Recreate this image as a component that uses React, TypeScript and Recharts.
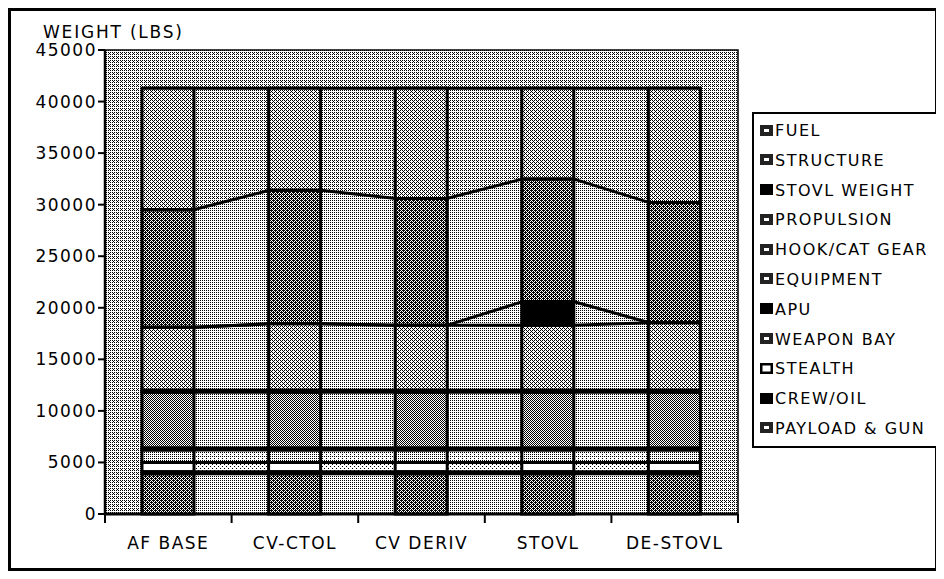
import React from 'react';
import { AreaChart, Area, BarChart, Bar, XAxis, YAxis, CartesianGrid, ReferenceArea } from 'recharts';

// categories and weights (lbs), stacked bottom to top
const categories = ['AF BASE', 'CV-CTOL', 'CV DERIV', 'STOVL', 'DE-STOVL'];
const payloadGun = [3900, 3900, 3900, 3900, 3900];
const crewOil = [200, 200, 200, 200, 200];
const stealth = [900, 900, 900, 900, 900];
const weaponBay = [1200, 1200, 1200, 1200, 1200];
const apu = [200, 200, 200, 200, 200];
const equipment = [5400, 5400, 5400, 5400, 5400];
const hookCatGear = [200, 200, 200, 200, 200];
const propulsion = [6100, 6450, 6300, 6300, 6550];
const stovlWeight = [0, 0, 0, 2300, 0];
const structure = [11400, 12950, 12300, 11900, 11650];
const fuel = [11800, 9900, 10700, 8800, 11100];
const yTicks = [0, 5000, 10000, 15000, 20000, 25000, 30000, 35000, 40000, 45000];

const series = [
  { key: 'payload', name: 'PAYLOAD & GUN', values: payloadGun },
  { key: 'crew', name: 'CREW/OIL', values: crewOil },
  { key: 'stealth', name: 'STEALTH', values: stealth },
  { key: 'weapon', name: 'WEAPON BAY', values: weaponBay },
  { key: 'apu', name: 'APU', values: apu },
  { key: 'equipment', name: 'EQUIPMENT', values: equipment },
  { key: 'hook', name: 'HOOK/CAT GEAR', values: hookCatGear },
  { key: 'propulsion', name: 'PROPULSION', values: propulsion },
  { key: 'stovl', name: 'STOVL WEIGHT', values: stovlWeight },
  { key: 'structure', name: 'STRUCTURE', values: structure },
  { key: 'fuel', name: 'FUEL', values: fuel },
];

const barFill: Record<string, string> = {
  payload: 'd10', crew: 'black', stealth: 'white', weapon: 'd4', apu: 'black', equipment: 'd8',
  hook: 'black', propulsion: 'd6', stovl: 'black', structure: 'd10', fuel: 'd6',
};
const gapFill: Record<string, string> = {
  payload: 'd4', crew: 'black', stealth: 'd2', weapon: 'd3', apu: 'black', equipment: 'd4',
  hook: 'black', propulsion: 'd4', stovl: 'd4', structure: 'd4', fuel: 'd5',
};
const swatch: Record<string, string> = {
  payload: 'mark', crew: 'solid', stealth: 'open', weapon: 'mark', apu: 'solid', equipment: 'mark',
  hook: 'mark', propulsion: 'mark', stovl: 'solid', structure: 'mark', fuel: 'mark',
};

const fillOf = (v: string) => (v === 'black' ? '#000' : v === 'white' ? '#fff' : `url(#${v})`);

const barRows = categories.map((name, i) => {
  const row: Record<string, any> = { name };
  series.forEach((s) => (row[s.key] = s.values[i]));
  return row;
});

// the connecting bands run from the edge of one bar to the edge of the next
const HALF_BAR = 0.2;
const areaRows = categories.flatMap((_, i) =>
  [i - HALF_BAR, i + HALF_BAR].map((x) => {
    const row: Record<string, any> = { x };
    series.forEach((s) => (row[s.key] = s.values[i]));
    return row;
  })
);
const bounds = [...categories.map((_, i) => i - 0.5), categories.length - 0.5];

// ordered dither, density n/16
const bayer = [
  [0, 8, 2, 10],
  [12, 4, 14, 6],
  [3, 11, 1, 9],
  [15, 7, 13, 5],
];
const densities = [2, 3, 4, 5, 6, 8, 10];

const FONT = '"DejaVu Sans", Verdana, sans-serif';
const W = 736;
const H = 563;
const margin = { top: 42, right: 6, bottom: 27, left: 37 };

const CategoryTick = (props: any) => {
  const { x, y, payload } = props;
  return (
    <text x={x} y={y + 35} textAnchor="middle" fontFamily={FONT} fontSize={17} letterSpacing={1.5} fill="#000">
      {payload.value}
    </text>
  );
};

const WeightTick = (props: any) => {
  const { x, y, payload } = props;
  return (
    <text x={x} y={y + 6} textAnchor="end" fontFamily={FONT} fontSize={17} letterSpacing={1.5} fill="#000">
      {payload.value}
    </text>
  );
};

const Swatch = ({ kind }: { kind: string }) => (
  <svg width={13} height={11} style={{ verticalAlign: 'middle', marginRight: 2, marginTop: -3 }}>
    {kind === 'open' ? (
      <rect x={1.25} y={1.25} width={10.5} height={8.5} fill="#fff" stroke="#000" strokeWidth={2.5} />
    ) : (
      <rect x={0} y={0} width={13} height={11} fill={kind === 'solid' ? '#000' : '#222'} />
    )}
    {kind === 'mark' && <rect x={4} y={4} width={5} height={3} fill="#fff" />}
  </svg>
);

export default function App() {
  const legendItems = [...series].reverse();
  return (
    <div style={{ position: 'relative', width: 930, height: H, fontFamily: FONT }}>
      <svg width={0} height={0} style={{ position: 'absolute' }}>
        <defs>
          {densities.map((n) => (
            <pattern key={n} id={`d${n}`} width={4} height={4} patternUnits="userSpaceOnUse">
              <rect width={4} height={4} fill="#fff" />
              {bayer.flatMap((row, py) =>
                row.map((t, px) => (t < n ? <rect key={`${px}-${py}`} x={px} y={py} width={1} height={1} fill="#000" /> : null))
              )}
            </pattern>
          ))}
        </defs>
      </svg>
      <div style={{ position: 'absolute', left: 0, top: 0, width: 930, height: H, border: '3px solid #000', boxSizing: 'border-box' }} />

      {/* background, connecting bands and category boundary ticks */}
      <div style={{ position: 'absolute', left: 0, top: 0 }}>
        <AreaChart width={W} height={H} data={areaRows} margin={margin}>
          <CartesianGrid horizontal={false} vertical={false} fill="url(#d5)" />
          <XAxis
            type="number"
            dataKey="x"
            domain={[-0.5, categories.length - 0.5]}
            ticks={bounds}
            allowDataOverflow
            height={30}
            axisLine={{ stroke: '#000', strokeWidth: 3 }}
            tickLine={{ stroke: '#000', strokeWidth: 2 }}
            tickSize={9}
            tick={() => <g />}
          />
          <YAxis type="number" domain={[0, 45000]} allowDataOverflow width={60} tick={false} axisLine={false} tickLine={false} />
          {series.map((s) => (
            <Area
              key={s.key}
              type="linear"
              dataKey={s.key}
              stackId="fill"
              fill={fillOf(gapFill[s.key])}
              fillOpacity={1}
              stroke="none"
              isAnimationActive={false}
            />
          ))}
          {series.map((s) => (
            <Area
              key={`line-${s.key}`}
              type="linear"
              dataKey={s.key}
              stackId="line"
              fill="none"
              stroke="#000"
              strokeWidth={3}
              isAnimationActive={false}
            />
          ))}
          <ReferenceArea x1={-0.5} x2={categories.length - 0.5} y1={0} y2={45000} fill="none" stroke="#000" strokeWidth={1.5} />
        </AreaChart>
      </div>

      {/* the stacked bars */}
      <div style={{ position: 'absolute', left: 0, top: 0 }}>
        <BarChart width={W} height={H} data={barRows} margin={margin}>
          <XAxis dataKey="name" height={30} axisLine={false} tickLine={false} tickSize={0} tickMargin={0} tick={<CategoryTick />} interval={0} />
          <XAxis xAxisId="outline" dataKey="name" hide />
          <YAxis
            type="number"
            domain={[0, 45000]}
            ticks={yTicks}
            interval={0}
            width={60}
            axisLine={{ stroke: '#000', strokeWidth: 2.5 }}
            tickLine={{ stroke: '#000', strokeWidth: 2 }}
            tickSize={7}
            tickMargin={1}
            tick={<WeightTick />}
          />
          {series.map((s) => (
            <Bar
              key={s.key}
              dataKey={s.key}
              stackId="fill"
              barSize={52}
              fill={fillOf(barFill[s.key])}
              isAnimationActive={false}
            />
          ))}
          {series.map((s) => (
            <Bar
              key={`line-${s.key}`}
              xAxisId="outline"
              dataKey={s.key}
              stackId="line"
              barSize={52}
              fill="none"
              stroke="#000"
              strokeWidth={3}
              isAnimationActive={false}
            />
          ))}
        </BarChart>
      </div>

      <div style={{ position: 'absolute', left: 35, top: 16, fontSize: 17, lineHeight: '17px', letterSpacing: 1.8, color: '#000' }}>
        WEIGHT (LBS)
      </div>

      <div
        style={{
          position: 'absolute', left: 744, top: 104, width: 186, height: 336, border: '2px solid #000',
          boxSizing: 'border-box', background: '#fff', overflow: 'hidden', paddingTop: 2, paddingLeft: 6,
          fontSize: 16, lineHeight: '29.8px', letterSpacing: 1.5, whiteSpace: 'nowrap', color: '#000',
        }}
      >
        {legendItems.map((s) => (
          <div key={s.key}>
            <Swatch kind={swatch[s.key]} />
            {s.name}
          </div>
        ))}
      </div>
    </div>
  );
}
